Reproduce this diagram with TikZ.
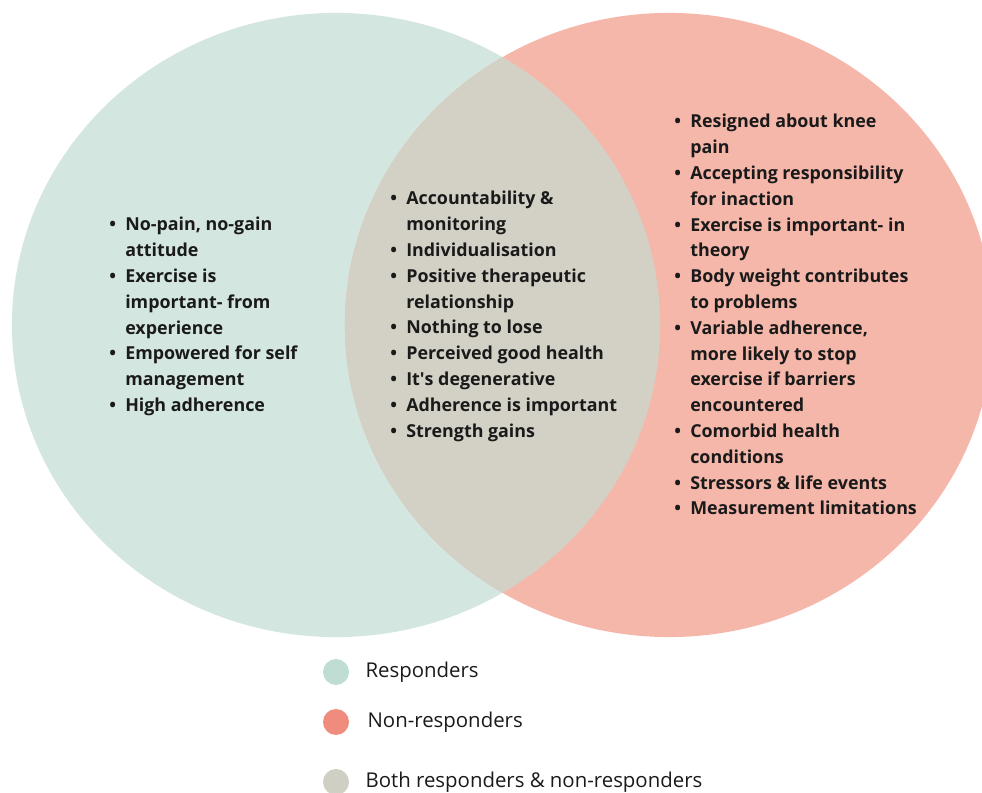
\documentclass[tikz,border=0pt]{standalone}
\usepackage{fontspec}
\setmainfont{Open Sans}
\usetikzlibrary{positioning}

\definecolor{respfill}{HTML}{D4E6E0}
\definecolor{nonfill}{HTML}{F5B7AA}
\definecolor{bothfill}{HTML}{D3D1C6}
\definecolor{respdot}{HTML}{C0DDD4}
\definecolor{nondot}{HTML}{F08C7D}
\definecolor{bothdot}{HTML}{D0CFC4}
\definecolor{ink}{HTML}{1A1A1A}

% bullet line and continuation line
\newcommand{\bul}[1]{\makebox[0.4cm][l]{\textbullet}#1}
\newcommand{\cnt}[1]{\hspace*{0.4cm}#1}

\begin{document}
\begin{tikzpicture}[
    x=0.025cm, y=-0.025cm,
    list/.style={anchor=north west, align=left, inner sep=0pt, text=ink,
      font=\fontsize{12.7}{18.35}\selectfont\bfseries},
    dot/.style={circle, minimum size=0.65cm, inner sep=0pt},
    key/.style={inner sep=0pt, text=ink, font=\fontsize{14.5}{17}\selectfont}
  ]
    \useasboundingbox (0,0) rectangle (982,793);

    % the two sets and their overlap
    \fill[respfill] (336,325) ellipse [x radius=8.1cm, y radius=7.8cm];
    \fill[nonfill] (669,325) ellipse [x radius=8.1cm, y radius=7.8cm];
    \begin{scope}
      \clip (336,325) ellipse [x radius=8.1cm, y radius=7.8cm];
      \fill[bothfill] (669,325) ellipse [x radius=8.1cm, y radius=7.8cm];
    \end{scope}

    \node[list] (resp) at (109,217) {%
      \bul{No-pain, no-gain}\\
      \cnt{attitude}\\
      \bul{Exercise is}\\
      \cnt{important- from}\\
      \cnt{experience}\\
      \bul{Empowered for self}\\
      \cnt{management}\\
      \bul{High adherence}};

    \node[list] (both) at (390,191) {%
      \bul{Accountability \&}\\
      \cnt{monitoring}\\
      \bul{Individualisation}\\
      \bul{Positive therapeutic}\\
      \cnt{relationship}\\
      \bul{Nothing to lose}\\
      \bul{Perceived good health}\\
      \bul{It\textquotesingle s degenerative}\\
      \bul{Adherence is important}\\
      \bul{Strength gains}};

    \node[list] (non) at (674,114) {%
      \bul{Resigned about knee}\\
      \cnt{pain}\\
      \bul{Accepting responsibility}\\
      \cnt{for inaction}\\
      \bul{Exercise is important- in}\\
      \cnt{theory}\\
      \bul{Body weight contributes}\\
      \cnt{to problems}\\
      \bul{Variable adherence,}\\
      \cnt{more likely to stop}\\
      \cnt{exercise if barriers}\\
      \cnt{encountered}\\
      \bul{Comorbid health}\\
      \cnt{conditions}\\
      \bul{Stressors \& life events}\\
      \bul{Measurement limitations}};

    % legend
    \node[dot, fill=respdot] (rdot) at (336,672) {};
    \node[dot, fill=nondot] (ndot) at (336,722) {};
    \node[dot, fill=bothdot] (bdot) at (336,782) {};
    \node[key, right=0.4cm of rdot] (rkey) {Responders};
    \node[key, right=0.45cm of ndot] (nkey) {Non-responders};
    \node[key, right=0.4cm of bdot] (bkey) {Both responders \& non-responders};
\end{tikzpicture}
\end{document}
